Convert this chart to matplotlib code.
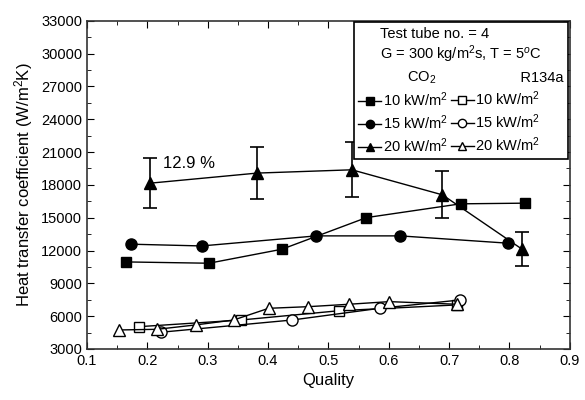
import numpy as np
import matplotlib
matplotlib.use("Agg")
import matplotlib.pyplot as plt
from matplotlib.lines import Line2D
from matplotlib.ticker import MultipleLocator, FormatStrFormatter

plt.rcParams['font.family'] = ['Liberation Sans', 'DejaVu Sans']
plt.rcParams['mathtext.fontset'] = 'custom'
plt.rcParams['mathtext.rm'] = 'Liberation Sans'
plt.rcParams['mathtext.it'] = 'Liberation Sans:italic'

# CO2 data
co2_10_x = [0.164, 0.302, 0.423, 0.563, 0.719, 0.825]
co2_10_y = [10960, 10840, 12120, 15010, 16270, 16330]
co2_15_x = [0.173, 0.290, 0.480, 0.619, 0.798]
co2_15_y = [12580, 12420, 13340, 13340, 12670]
co2_20_x = [0.205, 0.382, 0.539, 0.689, 0.821]
co2_20_y = [18160, 19080, 19380, 17090, 12120]
co2_20_err = [2300, 2400, 2500, 2150, 1550]

# R134a data
r_10_x = [0.186, 0.355, 0.518, 0.713]
r_10_y = [5040, 5650, 6500, 7030]
r_15_x = [0.222, 0.440, 0.585, 0.718]
r_15_y = [4530, 5650, 6720, 7480]
r_20_x = [0.153, 0.216, 0.280, 0.343, 0.401, 0.467, 0.534, 0.601, 0.713]
r_20_y = [4740, 4800, 5200, 5650, 6720, 6870, 7090, 7330, 7090]

fig = plt.figure(figsize=(5.85, 4), dpi=100)
ax = fig.add_axes([0.1487, 0.1275, 0.8253, 0.8205])

lw = 1.0
ms = 7
ax.plot(co2_10_x, co2_10_y, '-s', color='black', lw=lw, ms=ms)
ax.plot(co2_15_x, co2_15_y, '-o', color='black', lw=lw, ms=ms + 1)
ax.errorbar(co2_20_x, co2_20_y, yerr=co2_20_err, fmt='-^', color='black',
            lw=lw, ms=ms + 1, capsize=5, elinewidth=1.2, capthick=1.2)

ax.plot(r_10_x, r_10_y, '-s', color='black', mfc='white', lw=lw, ms=ms)
ax.plot(r_15_x, r_15_y, '-o', color='black', mfc='white', lw=lw, ms=ms + 1)
ax.plot(r_20_x, r_20_y, '-^', color='black', mfc='white', lw=lw, ms=ms + 1)

ax.text(0.226, 20000, '12.9 %', fontsize=12, va='center', ha='left')

ax.set_xlim(0.1, 0.9)
ax.set_ylim(3000, 33000)
ax.xaxis.set_major_locator(MultipleLocator(0.1))
ax.xaxis.set_minor_locator(MultipleLocator(0.05))
ax.xaxis.set_major_formatter(FormatStrFormatter('%.1f'))
ax.yaxis.set_major_locator(MultipleLocator(3000))
ax.yaxis.set_minor_locator(MultipleLocator(1500))
ax.tick_params(which='both', direction='in', top=True, right=True, labelsize=10.5)
ax.tick_params(which='major', length=5)
ax.tick_params(which='minor', length=3)
for s in ax.spines.values():
    s.set_linewidth(1.2)
    s.set_color('#333333')

ax.set_xlabel('Quality', fontsize=12, labelpad=4)
ax.set_ylabel('Heat transfer coefficient (W/m$^2$K)', fontsize=12, labelpad=4)

# legend
blank = Line2D([], [], linestyle='none')
h = [blank,
     Line2D([], [], color='black', marker='s', lw=lw, ms=6),
     Line2D([], [], color='black', marker='o', lw=lw, ms=6),
     Line2D([], [], color='black', marker='^', lw=lw, ms=6),
     blank,
     Line2D([], [], color='black', marker='s', mfc='white', lw=lw, ms=6),
     Line2D([], [], color='black', marker='o', mfc='white', lw=lw, ms=6),
     Line2D([], [], color='black', marker='^', mfc='white', lw=lw, ms=6)]
lab = ['      CO$_2$', '10 kW/m$^2$', '15 kW/m$^2$', '20 kW/m$^2$',
       '           R134a', '10 kW/m$^2$', '15 kW/m$^2$', '20 kW/m$^2$']
leg = ax.legend(h, lab, ncol=2, loc='upper right', fontsize=10.5,
                title='Test tube no. = 4\nG = 300 kg/m$^2$s, T = 5$^o$C',
                title_fontsize=10.5, frameon=True, fancybox=False,
                framealpha=1, edgecolor='black', borderaxespad=0.1,
                handlelength=1.6, handletextpad=0.1, columnspacing=0.2,
                labelspacing=0.3, borderpad=0.3)
leg.get_frame().set_linewidth(1.2)

fig.savefig('out.png', dpi=100)
